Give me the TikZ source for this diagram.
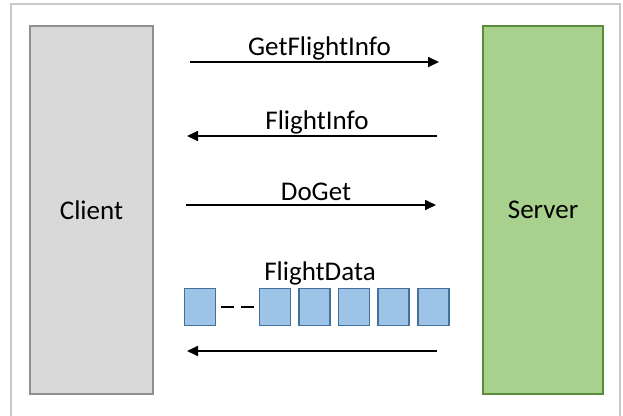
\documentclass[tikz,border=0pt]{standalone}
\usepackage{fontspec}
\setmainfont{Carlito}
\usetikzlibrary{arrows.meta}
\definecolor{framegray}{HTML}{C8C8C8}
\definecolor{clientfill}{HTML}{D9D9D9}
\definecolor{clientline}{HTML}{8F8F8F}
\definecolor{serverfill}{HTML}{A9D18E}
\definecolor{serverline}{HTML}{5A8A3C}
\definecolor{packetfill}{HTML}{9DC3E6}
\definecolor{packetline}{HTML}{41719C}
\begin{document}
\begin{tikzpicture}[x=1pt,y=-1pt,
    party/.style={draw,line width=1.5pt,minimum height=368pt,inner sep=0pt,
        font=\fontsize{27}{31}\selectfont},
    msg/.style={line width=1.7pt,-{Triangle[length=11pt,width=10pt]}},
    msglabel/.style={midway,anchor=base,yshift=#1,xshift=5pt,inner sep=0pt,
        font=\fontsize{27}{31}\selectfont},
    msglabel/.default=7pt,
    packet/.style={draw=packetline,fill=packetfill,line width=1.2pt,
        minimum width=31pt,minimum height=37pt,inner sep=0pt}]
    \useasboundingbox (0,0) rectangle (623,415);
    \draw[framegray,line width=1.5pt] (11,430) -- (11,4) -- (620,4) -- (620,430);
    % client and server
    \node[party,draw=clientline,fill=clientfill,minimum width=123pt] (client) at (91.5,210) {Client};
    \node[party,draw=serverline,fill=serverfill,minimum width=120pt] (server) at (543,210) {Server};
    % messages
    \coordinate (q1s) at (190,62);  \coordinate (q1e) at (439,62);
    \coordinate (r1s) at (437,136); \coordinate (r1e) at (187,136);
    \coordinate (q2s) at (186,205); \coordinate (q2e) at (436,205);
    \coordinate (r2s) at (437,351); \coordinate (r2e) at (187,351);
    \draw[msg] (q1s) -- (q1e) node[msglabel] {GetFlightInfo};
    \draw[msg] (r1s) -- (r1e) node[msglabel] {FlightInfo};
    \draw[msg] (q2s) -- (q2e) node[msglabel=5pt] {DoGet};
    \draw[msg] (r2s) -- (r2e);
    % data stream
    \node[packet] (p0) at (200,307) {};
    \foreach \i/\x in {1/275,2/314.5,3/354,4/393.5,5/433.5}
        \node[packet] (p\i) at (\x,307) {};
    \draw[line width=1.5pt,dash pattern=on 13pt off 7pt] ([xshift=5pt]p0.east) -- ([xshift=-4pt]p1.west);
    \node[anchor=base,inner sep=0pt,font=\fontsize{27}{31}\selectfont] (data) at (320,280) {FlightData};
\end{tikzpicture}
\end{document}
